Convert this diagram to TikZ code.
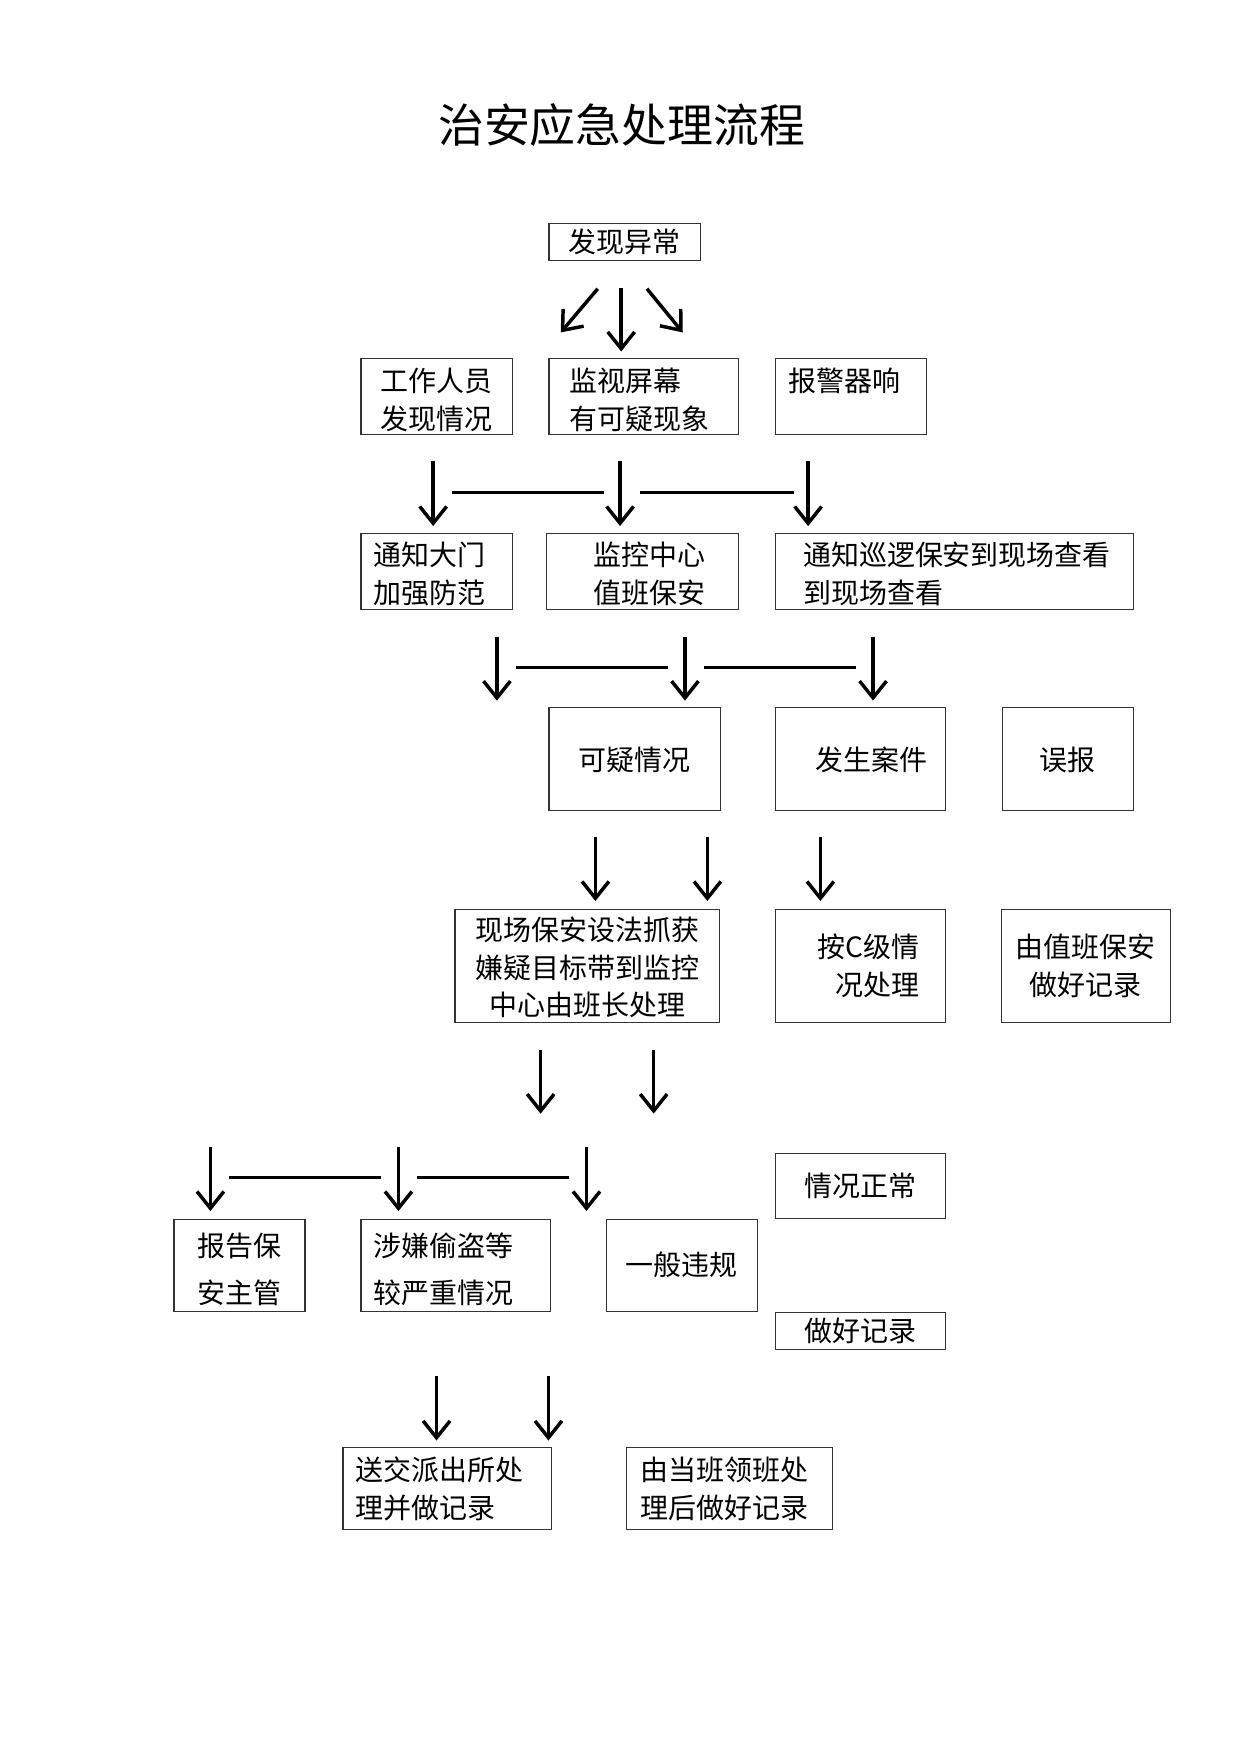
\documentclass[tikz,border=0pt]{standalone}
\usepackage{fontspec}
\newfontfamily\cjk{Noto Sans CJK SC}
\usetikzlibrary{arrows.meta}
\newcommand\upstrut[1]{\rule{0pt}{#1}}
\begin{document}
\begin{tikzpicture}[x=0.5pt,y=-0.5pt,
  box/.style={draw=black!80, line width=0.5pt, inner sep=0pt, anchor=north west,
    font=\cjk\fontsize{12.5}{17}\selectfont},
  arr/.style={line width=1.55pt, -{Straight Barb[length=7.5pt,width=12pt]}},
  hl/.style={line width=1.4pt}]
\fill[white] (0,0) rectangle (1109,1568);
\path[use as bounding box] (0,0) rectangle (1109,1568);

% title
\node[font=\cjk\fontsize{20.5}{24}\selectfont] (title) at (555.5,112) {治安应急处理流程};

% boxes
\node[box, minimum width=67.5pt, minimum height=16.5pt] (start) at (490,199) {发现异常};

\node[box, minimum width=67.5pt, minimum height=34pt, align=center] (n21) at (322,320) {\upstrut{13pt}工作人员\\发现情况};
\node[box, minimum width=84.5pt, minimum height=34pt, text width=66pt, align=left] (n22) at (490,320) {\upstrut{13pt}监视屏幕\\有可疑现象};
\node[box, minimum width=67.5pt, minimum height=34pt, text width=55.5pt, align=left] (n23) at (692,320) {\upstrut{13pt}报警器响\\\phantom{报}};

\node[box, minimum width=67.5pt, minimum height=34pt, text width=56.5pt, align=left] (n31) at (322,476) {\upstrut{13pt}通知大门\\加强防范};
\node[box, minimum width=85.5pt, minimum height=34pt, text width=44pt, align=left] (n32) at (488,476) {\upstrut{13pt}监控中心\\值班保安};
\node[box, minimum width=160pt, minimum height=34pt, text width=135pt, align=left] (n33) at (692,476)
  {\upstrut{13pt}\makebox[137.5pt][l]{通\hfill 知\hfill 巡\hfill 逻\hfill 保\hfill 安\hfill 到\hfill 现\hfill 场\hfill 查\hfill 看}\\到现场查看};

\node[box, minimum width=76.5pt, minimum height=46pt] (n41) at (490,632) {可疑情况};
\node[box, minimum width=76pt, minimum height=46pt, text width=40pt, align=left] (n42) at (692,632) {发生案件};
\node[box, minimum width=58.5pt, minimum height=46pt] (n43) at (895,632) {误报};

\node[box, minimum width=118pt, minimum height=50.5pt, align=center,
  font=\cjk\fontsize{12.5}{16.75}\selectfont] (n51) at (406,812) {\upstrut{12pt}现场保安设法抓获\\嫌疑目标带到监控\\中心由班长处理};
\node[box, minimum width=76pt, minimum height=50.5pt, text width=53pt, align=right] (n52) at (692,812) {按C级情\\况处理};
\node[box, minimum width=75.5pt, minimum height=50.5pt, align=center] (n53) at (894,812) {由值班保安\\做好记录};

\node[box, minimum width=76pt, minimum height=29pt] (n6) at (692,1030) {情况正常};

\node[box, minimum width=58.5pt, minimum height=41pt, align=center,
  font=\cjk\fontsize{12.5}{20.75}\selectfont] (n71) at (155,1089) {\upstrut{14pt}报告保\\安主管};
\node[box, minimum width=84.5pt, minimum height=41pt, text width=73.5pt, align=left,
  font=\cjk\fontsize{12.5}{20.75}\selectfont] (n72) at (322,1089) {\upstrut{14pt}涉嫌偷盗等\\较严重情况};
\node[box, minimum width=67.5pt, minimum height=41pt] (n73) at (541,1089) {一般违规};
\node[box, minimum width=76pt, minimum height=16.5pt] (n74) at (692,1172) {做好记录};

\node[box, minimum width=93pt, minimum height=36.5pt, text width=82pt, align=left] (n81) at (306,1293) {送交派出所处\\理并做记录};
\node[box, minimum width=92pt, minimum height=36.5pt, text width=79pt, align=left] (n82) at (559,1293) {由当班领班处\\理后做好记录};

% arrows
\coordinate (a0s) at (534,258); \coordinate (a0e) at (501,297);
\coordinate (a1s) at (555,257); \coordinate (a1e) at (555,314);
\coordinate (a2s) at (578,258); \coordinate (a2e) at (610,297);
\draw[arr] (a0s) -- (a0e);
\draw[arr] (a1s) -- (a1e);
\draw[arr] (a2s) -- (a2e);

\foreach \n/\x/\ya/\yb in {b1/387/412/470, b2/554/412/470, b3/722/412/470,
  c1/444/569/626, c2/612/569/626, c3/780/569/626,
  d1/532/748/805, d2/632/748/805, d3/733/748/805,
  e1/483/938/995, e2/584/938/995,
  f1/188/1025/1082, f2/356/1025/1082, f3/524/1025/1082,
  g1/390/1229/1287, g2/490/1229/1287}{
  \coordinate (\n s) at (\x,\ya);
  \coordinate (\n e) at (\x,\yb);
  \draw[arr] (\n s) -- (\n e);
}

\foreach \n/\xa/\xb/\y in {h1/404/540/440, h2/572/709/440,
  h3/461/597/596, h4/629/765/596,
  h5/205/340/1052, h6/373/508/1052}{
  \coordinate (\n a) at (\xa,\y);
  \coordinate (\n b) at (\xb,\y);
  \draw[hl] (\n a) -- (\n b);
}
\end{tikzpicture}
\end{document}
